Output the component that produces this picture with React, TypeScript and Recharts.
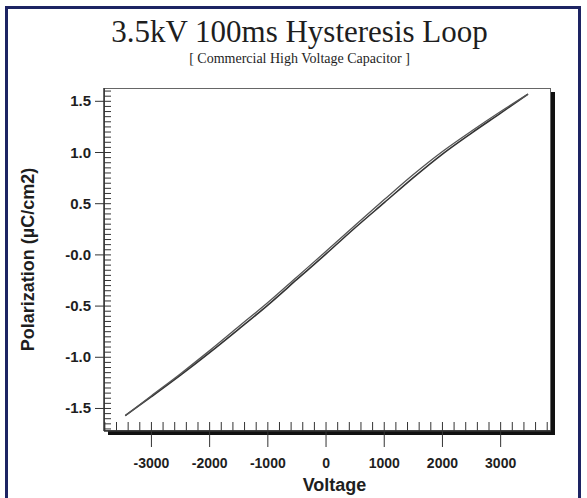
import React from 'react';
import { LineChart, Line, XAxis, YAxis } from 'recharts';

// hysteresis loop (voltage in V, polarization in µC/cm2)
const voltages = [-3450, -3000, -2500, -2000, -1500, -1000, -500, 0, 500, 1000, 1500, 2000, 2500, 3000, 3470];
const risingBranch = [-1.57, -1.385, -1.175, -0.955, -0.725, -0.49, -0.24, 0.01, 0.265, 0.51, 0.755, 0.985, 1.19, 1.385, 1.57];
const fallingBranch = [-1.57, -1.375, -1.16, -0.935, -0.7, -0.465, -0.215, 0.035, 0.29, 0.54, 0.785, 1.01, 1.21, 1.4, 1.57];

const xMajorTicks = [-3000, -2000, -1000, 0, 1000, 2000, 3000];
const yMajorTicks = [-1.5, -1.0, -0.5, 0, 0.5, 1.0, 1.5];
const yTickLabels = ['-1.5', '-1.0', '-0.5', '-0.0', '0.5', '1.0', '1.5'];

const X_DOMAIN: [number, number] = [-3815, 3865];
const Y_DOMAIN: [number, number] = [-1.72, 1.63];

// minor ticks: every 200 V and every 0.05 µC/cm2
const xTicks: number[] = [];
for (let v = -3800; v <= 3800; v += 200) xTicks.push(v);
const yTicks: number[] = [];
for (let i = -34; i <= 32; i++) yTicks.push(Math.round(i * 5) / 100);

const rising = voltages.map((v, i) => ({ v, p: risingBranch[i] }));
const falling = voltages.map((v, i) => ({ v, p: fallingBranch[i] }));

const W = 587;
const H = 498;
const M = { top: 88, right: 36, bottom: 27, left: 44 };
const Y_AXIS_W = 60;
const X_AXIS_H = 40;
const PLOT = {
  left: M.left + Y_AXIS_W,
  top: M.top,
  width: W - M.left - Y_AXIS_W - M.right,
  height: H - M.top - M.bottom - X_AXIS_H,
};

const SANS = '"Liberation Sans", Arial, sans-serif';
const SERIF = '"Liberation Serif", "Times New Roman", serif';
const INK = '#1e1e1e';

const XTick = (props: any) => {
  const { x, y, payload } = props;
  const v = payload.value;
  const major = xMajorTicks.includes(v);
  return (
    <g>
      <line x1={x} x2={x} y1={y - 9} y2={major ? y + 16 : y} stroke="#333" strokeWidth={1} />
      {major && (
        <text x={x} y={y + 37} textAnchor="middle" fontFamily={SANS} fontWeight="bold" fontSize={14} fill={INK}>
          {v}
        </text>
      )}
    </g>
  );
};

const YTick = (props: any) => {
  const { x, y, payload } = props;
  const v = payload.value;
  const idx = yMajorTicks.findIndex((t) => Math.abs(t - v) < 1e-6);
  const major = idx >= 0;
  return (
    <g>
      <line x1={major ? x - 9 : x} x2={x + 7} y1={y} y2={y} stroke="#333" strokeWidth={1} />
      {major && (
        <text x={x - 13} y={y + 5} textAnchor="end" fontFamily={SANS} fontWeight="bold" fontSize={15} fill={INK}>
          {yTickLabels[idx]}
        </text>
      )}
    </g>
  );
};

export default function App() {
  return (
    <div style={{ position: 'absolute', left: 0, top: 0, width: W, height: H, background: '#fff', overflow: 'hidden' }}>
      {/* navy outer frame */}
      <div
        style={{
          position: 'absolute',
          left: 5,
          top: 6,
          width: 576,
          height: 520,
          border: '3px solid #1d2463',
          boxSizing: 'border-box',
        }}
      />
      <div
        style={{
          position: 'absolute',
          left: 0,
          width: W,
          top: 16,
          textAlign: 'center',
          fontFamily: SERIF,
          fontSize: 31,
          color: INK,
          lineHeight: '32px',
          paddingLeft: 12,
          boxSizing: 'border-box',
        }}
      >
        3.5kV 100ms Hysteresis Loop
      </div>
      <div
        style={{
          position: 'absolute',
          left: 0,
          width: W,
          top: 51,
          textAlign: 'center',
          fontFamily: SERIF,
          fontSize: 14,
          color: INK,
          lineHeight: '15px',
          paddingLeft: 12,
          boxSizing: 'border-box',
        }}
      >
        [ Commercial High Voltage Capacitor ]
      </div>
      {/* plot box with dark drop shadow */}
      <div
        style={{
          position: 'absolute',
          left: PLOT.left,
          top: PLOT.top,
          width: PLOT.width,
          height: PLOT.height,
          border: '1px solid #666',
          boxSizing: 'border-box',
          background: '#fff',
          boxShadow: '4px 4px 0 #111',
        }}
      />
      <div style={{ position: 'absolute', left: 0, top: 0 }}>
        <LineChart width={W} height={H} margin={M}>
          <XAxis
            type="number"
            dataKey="v"
            domain={X_DOMAIN}
            allowDataOverflow
            ticks={xTicks}
            interval={0}
            height={X_AXIS_H}
            tickLine={false}
            tickSize={0}
            tickMargin={0}
            tick={<XTick />}
            axisLine={{ stroke: '#333', strokeWidth: 1.5 }}
            label={{
              value: 'Voltage',
              position: 'insideBottom',
              offset: -20,
              dx: 7,
              style: { fontFamily: SANS, fontWeight: 'bold', fontSize: 18, fill: INK },
            }}
          />
          <YAxis
            type="number"
            domain={Y_DOMAIN}
            allowDataOverflow
            ticks={yTicks}
            interval={0}
            width={Y_AXIS_W}
            tickLine={false}
            tickSize={0}
            tickMargin={0}
            tick={<YTick />}
            axisLine={{ stroke: '#333', strokeWidth: 1.5 }}
            label={{
              value: 'Polarization (µC/cm2)',
              angle: -90,
              position: 'insideLeft',
              offset: -16,
              style: { textAnchor: 'middle', fontFamily: SANS, fontWeight: 'bold', fontSize: 18, fill: INK },
            }}
          />
          <Line
            data={rising}
            dataKey="p"
            type="monotone"
            stroke="#333"
            strokeWidth={1.6}
            dot={false}
            isAnimationActive={false}
          />
          <Line
            data={falling}
            dataKey="p"
            type="monotone"
            stroke="#555"
            strokeWidth={1.3}
            dot={false}
            isAnimationActive={false}
          />
        </LineChart>
      </div>
    </div>
  );
}
